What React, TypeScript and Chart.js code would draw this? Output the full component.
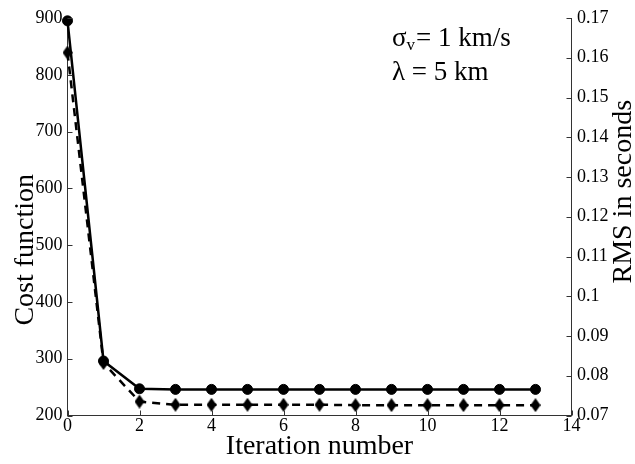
import React, { useEffect, useRef } from "react";
import { Chart, registerables } from "chart.js";

Chart.register(...registerables);

// ---- data ----
const iterations = [0, 1, 2, 3, 4, 5, 6, 7, 8, 9, 10, 11, 12, 13];
const costValues = [895, 296, 247, 246, 246, 246, 246, 246, 246, 246, 246, 246, 246, 246];
const rmsValues = [0.1613, 0.0832, 0.0735, 0.0727, 0.0727, 0.0727, 0.0727, 0.0727, 0.0726, 0.0726, 0.0726, 0.0726, 0.0726, 0.0726];

const xTicks = [0, 2, 4, 6, 8, 10, 12, 14];
const costTicks = [200, 300, 400, 500, 600, 700, 800, 900];
const rmsTicks = [0.07, 0.08, 0.09, 0.1, 0.11, 0.12, 0.13, 0.14, 0.15, 0.16, 0.17];

const X_TITLE = "Iteration number";
const LEFT_TITLE = "Cost function";
const RIGHT_TITLE = "RMS in seconds";
const ANNOT_SIGMA = "σ";
const ANNOT_SUB = "v";
const ANNOT_LINE1_REST = "= 1 km/s";
const ANNOT_LINE2 = "λ = 5 km";

const FONT = "'Liberation Serif', 'DejaVu Serif', serif";
const AXIS_COLOR = "#333";

function makeDiamond(w: number, h: number): HTMLCanvasElement {
  const c = document.createElement("canvas");
  c.width = w;
  c.height = h;
  const g = c.getContext("2d")!;
  g.fillStyle = "#000";
  g.beginPath();
  g.moveTo(w / 2, 0);
  g.lineTo(w, h / 2);
  g.lineTo(w / 2, h);
  g.lineTo(0, h / 2);
  g.closePath();
  g.fill();
  return c;
}

const decorPlugin = {
  id: "decor",
  afterDraw(chart: any) {
    const ctx = chart.ctx as CanvasRenderingContext2D;
    const { left, right, top, bottom } = chart.chartArea;
    const xs = chart.scales.x;
    const yl = chart.scales.y;
    const yr = chart.scales.y1;
    ctx.save();
    // inward ticks
    ctx.strokeStyle = AXIS_COLOR;
    ctx.lineWidth = 1;
    const TL = 5;
    xTicks.forEach((v) => {
      const px = Math.round(xs.getPixelForValue(v)) + 0.5;
      ctx.beginPath();
      ctx.moveTo(px, bottom);
      ctx.lineTo(px, bottom - TL);
      ctx.stroke();
    });
    costTicks.forEach((v) => {
      const py = Math.round(yl.getPixelForValue(v)) + 0.5;
      ctx.beginPath();
      ctx.moveTo(left, py);
      ctx.lineTo(left + TL, py);
      ctx.stroke();
    });
    rmsTicks.forEach((v) => {
      const py = Math.round(yr.getPixelForValue(v)) + 0.5;
      ctx.beginPath();
      ctx.moveTo(right, py);
      ctx.lineTo(right - TL, py);
      ctx.stroke();
    });

    // axis titles (rotated, reading bottom to top)
    ctx.fillStyle = "#000";
    ctx.font = `28px ${FONT}`;
    ctx.textAlign = "center";
    ctx.textBaseline = "alphabetic";
    ctx.save();
    ctx.translate(left - 34.5, (top + bottom) / 2 + 33);
    ctx.rotate(-Math.PI / 2);
    ctx.fillText(LEFT_TITLE, 0, 0);
    ctx.restore();
    ctx.save();
    ctx.translate(right + 59.5, (top + bottom) / 2 - 25);
    ctx.rotate(-Math.PI / 2);
    ctx.fillText(RIGHT_TITLE, 0, 0);
    ctx.restore();

    // annotation
    ctx.textAlign = "left";
    const ax = left + 324.5;
    const b1 = top + 28;
    const b2 = top + 62;
    ctx.font = `27px ${FONT}`;
    ctx.fillText(ANNOT_SIGMA, ax, b1);
    const sw = ctx.measureText(ANNOT_SIGMA).width;
    ctx.font = `17px ${FONT}`;
    ctx.fillText(ANNOT_SUB, ax + sw, b1 + 4);
    const vw = ctx.measureText(ANNOT_SUB).width;
    ctx.font = `27px ${FONT}`;
    ctx.fillText(ANNOT_LINE1_REST, ax + sw + vw + 1, b1);
    ctx.fillText(ANNOT_LINE2, ax, b2);
    ctx.restore();
  },
};

export default function App() {
  const ref = useRef<HTMLCanvasElement | null>(null);

  useEffect(() => {
    if (!ref.current) return;
    const diamond = makeDiamond(10, 14);
    const tickFont = { family: FONT, size: 18, lineHeight: 1 };
    const chart = new Chart(ref.current, {
      type: "line",
      data: {
        datasets: [
          {
            label: LEFT_TITLE,
            data: iterations.map((x, i) => ({ x, y: costValues[i] })),
            yAxisID: "y",
            borderColor: "#000",
            backgroundColor: "#000",
            borderWidth: 2.5,
            pointStyle: "circle",
            pointRadius: 5,
            pointBorderWidth: 1,
            pointBorderColor: "#000",
            pointBackgroundColor: "#000",
            tension: 0,
            clip: false as any,
          },
          {
            label: RIGHT_TITLE,
            data: iterations.map((x, i) => ({ x, y: rmsValues[i] })),
            yAxisID: "y1",
            borderColor: "#000",
            backgroundColor: "#000",
            borderWidth: 2.5,
            borderDash: [8, 6],
            pointStyle: diamond as any,
            pointRadius: 7,
            tension: 0,
            clip: false as any,
          },
        ],
      },
      options: {
        animation: false,
        responsive: false,
        events: [],
        layout: { padding: { top: 18, left: 0, right: 0, bottom: 0 } },
        plugins: { legend: { display: false }, tooltip: { enabled: false } },
        scales: {
          x: {
            type: "linear",
            min: 0,
            max: 14,
            afterBuildTicks: (s: any) => {
              s.ticks = xTicks.map((v) => ({ value: v }));
            },
            afterFit: (s: any) => {
              s.height = 48.5;
            },
            grid: { display: true, drawOnChartArea: false, drawTicks: false },
            border: { display: true, color: AXIS_COLOR, width: 1 },
            ticks: {
              color: "#000",
              font: tickFont,
              padding: 2,
              maxRotation: 0,
              autoSkip: false,
              callback: (v: any) => String(v),
            },
            title: {
              display: true,
              text: X_TITLE,
              color: "#000",
              font: { family: FONT, size: 28, lineHeight: 1.2 },
              padding: { top: 0, bottom: 1 },
            },
          },
          y: {
            type: "linear",
            position: "left",
            min: 200,
            max: 900,
            afterBuildTicks: (s: any) => {
              s.ticks = costTicks.map((v) => ({ value: v }));
            },
            afterFit: (s: any) => {
              s.width = 67.5;
            },
            grid: { display: true, drawOnChartArea: false, drawTicks: false },
            border: { display: true, color: AXIS_COLOR, width: 1 },
            ticks: {
              color: "#000",
              font: tickFont,
              padding: 5,
              autoSkip: false,
              callback: (v: any) => String(v),
            },
          },
          y1: {
            type: "linear",
            position: "right",
            min: 0.07,
            max: 0.17,
            afterBuildTicks: (s: any) => {
              s.ticks = rmsTicks.map((v) => ({ value: v }));
            },
            afterFit: (s: any) => {
              s.width = 63.5;
            },
            grid: { display: true, drawOnChartArea: false, drawTicks: false },
            border: { display: true, color: AXIS_COLOR, width: 1 },
            ticks: {
              color: "#000",
              font: tickFont,
              padding: 5.5,
              autoSkip: false,
              callback: (v: any) => String(Number(Number(v).toFixed(2))),
            },
          },
        },
      },
      plugins: [decorPlugin],
    });
    return () => chart.destroy();
  }, []);

  return (
    <div style={{ position: "fixed", left: 0, top: 0, width: 635, height: 464, background: "#fff" }}>
      <canvas ref={ref} width={635} height={464} style={{ display: "block" }} />
    </div>
  );
}
